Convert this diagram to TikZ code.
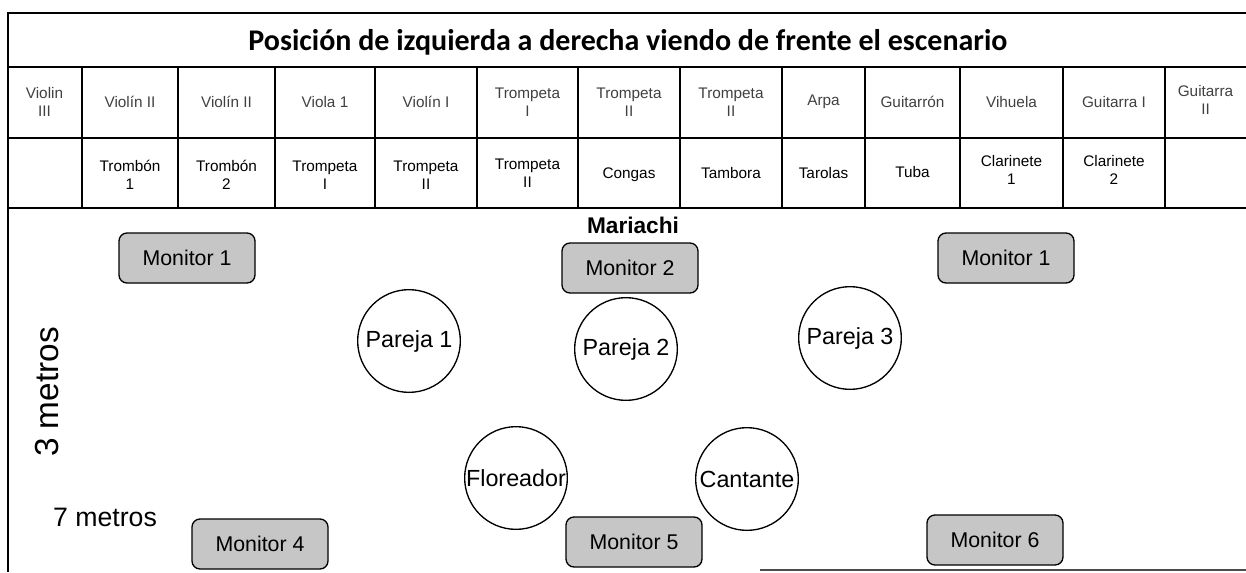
\documentclass[tikz,border=0pt]{standalone}
\usepackage{fontspec}
\setmainfont{Liberation Sans}
\newfontfamily\titlefont{Carlito}
\tikzset{
  grid/.style={draw=black, line width=1.1pt},
  cellA/.style={font=\fontsize{11.5}{13.8}\selectfont, text=black!75, align=center},
  cellB/.style={font=\fontsize{11.5}{13.8}\selectfont, text=black, align=center},
  monitor/.style={draw=black, line width=1pt, rounded corners=6pt, fill=gray!45,
     minimum width=102pt, minimum height=37.5pt, inner sep=0pt,
     font=\fontsize{16}{18}\selectfont},
  person/.style={draw=black, line width=1pt, circle, minimum size=77pt, inner sep=0pt,
     font=\fontsize{17.5}{20}\selectfont},
}
\begin{document}
\begin{tikzpicture}[x=0.75pt, y=-0.75pt]
\useasboundingbox (0,0) rectangle (1246,572);
% frame and table grid
\draw[grid] (7,13) -- (1246,13);
\draw[grid] (8,13) -- (8,572);
\foreach \yy in {67,138,208} \draw[grid] (7,\yy) -- (1246,\yy);
\foreach \xx in {82,178,275,375,477,578,680,782,865,960,1063,1165}
  \draw[grid] (\xx,67) -- (\xx,208);
\draw[line width=1pt, black!70] (760,570) -- (1246,570);
% title
\node[font=\titlefont\bfseries\fontsize{22.5}{26}\selectfont] (title) at (628,42)
  {Posición de izquierda a derecha viendo de frente el escenario};
% row 1
\node[cellA] (a1) at (44.5,102) {Violin\\III};
\node[cellA] (a2) at (130,102) {Violín II};
\node[cellA] (a3) at (226.5,102) {Violín II};
\node[cellA] (a4) at (325,102) {Viola 1};
\node[cellA] (a5) at (426,102) {Violín I};
\node[cellA] (a6) at (527.5,102) {Trompeta\\I};
\node[cellA] (a7) at (629,102) {Trompeta\\II};
\node[cellA] (a8) at (731,102) {Trompeta\\II};
\node[cellA] (a9) at (823.5,102) {Arpa};
\node[cellA] (a10) at (912.5,102) {Guitarrón};
\node[cellA] (a11) at (1011.5,102) {Vihuela};
\node[cellA] (a12) at (1114,102) {Guitarra I};
\node[cellA] (a13) at (1205.5,100) {Guitarra\\II};
% row 2
\node[cellB] (b2) at (130,175) {Trombón\\1};
\node[cellB] (b3) at (226.5,175) {Trombón\\2};
\node[cellB] (b4) at (325,175) {Trompeta\\I};
\node[cellB] (b5) at (426,175) {Trompeta\\II};
\node[cellB] (b6) at (527.5,173) {Trompeta\\II};
\node[cellB] (b7) at (629,175) {Congas};
\node[cellB] (b8) at (731,173) {Tambora};
\node[cellB] (b9) at (823.5,173) {Tarolas};
\node[cellB] (b10) at (912.5,172) {Tuba};
\node[cellB] (b11) at (1011.5,170) {Clarinete\\1};
\node[cellB] (b12) at (1114,170) {Clarinete\\2};
% stage
\node[font=\bfseries\fontsize{17}{20}\selectfont] (mar) at (633,225) {Mariachi};
\node[monitor] (m1) at (187,258) {Monitor 1};
\node[monitor] (m2) at (630,268) {Monitor 2};
\node[monitor] (m3) at (1006,258) {Monitor 1};
\node[monitor] (m4) at (260,544) {Monitor 4};
\node[monitor] (m5) at (634,542) {Monitor 5};
\node[monitor] (m6) at (995,540) {Monitor 6};
\node[person] (p1) at (409,341) {Pareja 1};
\node[person] (p2) at (626,349) {Pareja 2};
\node[person] (p3) at (850,338) {Pareja 3};
\node[person] (fl) at (516,478) {Floreador};
\node[person] (ca) at (747,479) {Cantante};
\node[rotate=90, font=\fontsize{25}{28}\selectfont] (tres) at (47,392) {3 metros};
\node[font=\fontsize{20}{24}\selectfont] (siete) at (105,517) {7 metros};
\end{tikzpicture}
\end{document}
